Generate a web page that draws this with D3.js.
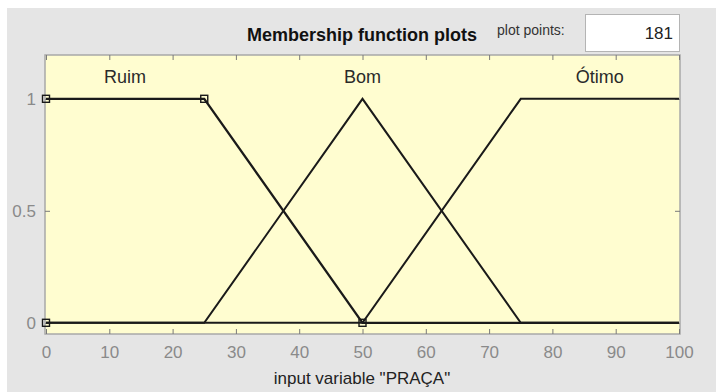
<!DOCTYPE html>
<html>
<head>
<meta charset="utf-8">
<script src="https://cdn.jsdelivr.net/npm/d3@7"></script>
<style>
  body { margin: 0; background: #fff; }
  text { font-family: "Liberation Sans", Arial, sans-serif; }
</style>
</head>
<body>
<svg id="mf-chart"></svg>
<script>
// membership functions of input variable "PRAÇA"
const mfNames = ["Bom", "Ótimo", "Ruim"];
const ruimPts = [[0, 1], [25, 1], [50, 0], [100, 0]];
const bomPts = [[0, 0], [25, 0], [50, 1], [75, 0], [100, 0]];
const otimoPts = [[0, 0], [50, 0], [75, 1], [100, 1]];
const labelX = [50, 87.5, 12.5];
const selectedVertices = [[0, 0], [0, 1], [25, 1], [50, 0]];
const xTicks = [0, 10, 20, 30, 40, 50, 60, 70, 80, 90, 100];
const yTicks = [0, 0.5, 1];
const plotPoints = 181;

function drawMembershipChart() {
    const svg = d3.select("#mf-chart")
        .attr("width", 716)
        .attr("height", 392);

    // figure background
    svg.append("rect")
        .attr("x", 7).attr("y", 8)
        .attr("width", 709).attr("height", 384)
        .attr("fill", "#e5e5e5");

    const x = d3.scaleLinear().domain([0, 100]).range([46, 679]);
    const y = d3.scaleLinear().domain([-0.05, 1.2]).range([334, 54]);

    svg.append("rect")
        .attr("x", 45).attr("y", 55)
        .attr("width", 635).attr("height", 279)
        .attr("fill", "#fffdd0")
        .attr("stroke", "#a8a8a8")
        .attr("stroke-width", 1.5);

    // inward ticks on all four sides
    const tickColor = "#7a7a7a";
    svg.append("g").attr("transform", "translate(0,334)")
        .call(d3.axisBottom(x).tickValues(xTicks).tickSize(-5).tickFormat(d3.format("d")).tickPadding(12))
        .call(g => g.select(".domain").remove())
        .call(g => g.selectAll("line").attr("stroke", tickColor))
        .call(g => g.selectAll("text").attr("fill", "#8a8a8a").attr("font-size", 17)
            .attr("font-family", "Liberation Sans, Arial, sans-serif"));
    svg.append("g").attr("transform", "translate(0,55)")
        .call(d3.axisTop(x).tickValues(xTicks).tickSize(-5).tickFormat(""))
        .call(g => g.select(".domain").remove())
        .call(g => g.selectAll("line").attr("stroke", tickColor));
    svg.append("g").attr("transform", "translate(45,0)")
        .call(d3.axisLeft(y).tickValues(yTicks).tickSize(-5).tickFormat(d3.format("")).tickPadding(9))
        .call(g => g.select(".domain").remove())
        .call(g => g.selectAll("line").attr("stroke", tickColor))
        .call(g => g.selectAll("text").attr("fill", "#8a8a8a").attr("font-size", 17)
            .attr("font-family", "Liberation Sans, Arial, sans-serif"));
    svg.append("g").attr("transform", "translate(680,0)")
        .call(d3.axisRight(y).tickValues(yTicks).tickSize(-5).tickFormat(""))
        .call(g => g.select(".domain").remove())
        .call(g => g.selectAll("line").attr("stroke", tickColor));

    const line = d3.line().x(d => x(d[0])).y(d => y(d[1]));
    const series = [bomPts, otimoPts, ruimPts];
    svg.append("g").selectAll("path")
        .data(series)
        .enter().append("path")
        .attr("d", line)
        .attr("fill", "none")
        .attr("stroke", "#1a1a1a")
        .attr("stroke-width", (d, i) => i === 2 ? 2.3 : 2);

    svg.append("g").selectAll("rect")
        .data(selectedVertices)
        .enter().append("rect")
        .attr("x", d => x(d[0]) - 3.5)
        .attr("y", d => y(d[1]) - 3.5)
        .attr("width", 7).attr("height", 7)
        .attr("fill", "none")
        .attr("stroke", "#1a1a1a")
        .attr("stroke-width", 1.4);

    svg.append("g").selectAll("text")
        .data(mfNames)
        .enter().append("text")
        .attr("x", (d, i) => x(labelX[i]))
        .attr("y", 83)
        .attr("text-anchor", "middle")
        .attr("font-size", 18)
        .attr("fill", "#2a2a2a")
        .text(d => d);

    svg.append("text")
        .attr("x", 362).attr("y", 41)
        .attr("text-anchor", "middle")
        .attr("font-size", 18).attr("font-weight", "bold")
        .attr("fill", "#111")
        .text("Membership function plots");

    svg.append("text")
        .attr("x", 497).attr("y", 35)
        .attr("font-size", 14)
        .attr("fill", "#333")
        .text("plot points:");

    svg.append("rect")
        .attr("x", 585.5).attr("y", 14.5)
        .attr("width", 94).attr("height", 37)
        .attr("fill", "#fff")
        .attr("stroke", "#b4b4b4");
    svg.append("text")
        .attr("x", 673).attr("y", 39)
        .attr("text-anchor", "end")
        .attr("font-size", 17)
        .attr("fill", "#222")
        .text(plotPoints);

    svg.append("text")
        .attr("x", 362).attr("y", 384)
        .attr("text-anchor", "middle")
        .attr("font-size", 17)
        .attr("fill", "#222")
        .text('input variable "PRAÇA"');
}

document.addEventListener("DOMContentLoaded", drawMembershipChart);
</script>
</body>
</html>
